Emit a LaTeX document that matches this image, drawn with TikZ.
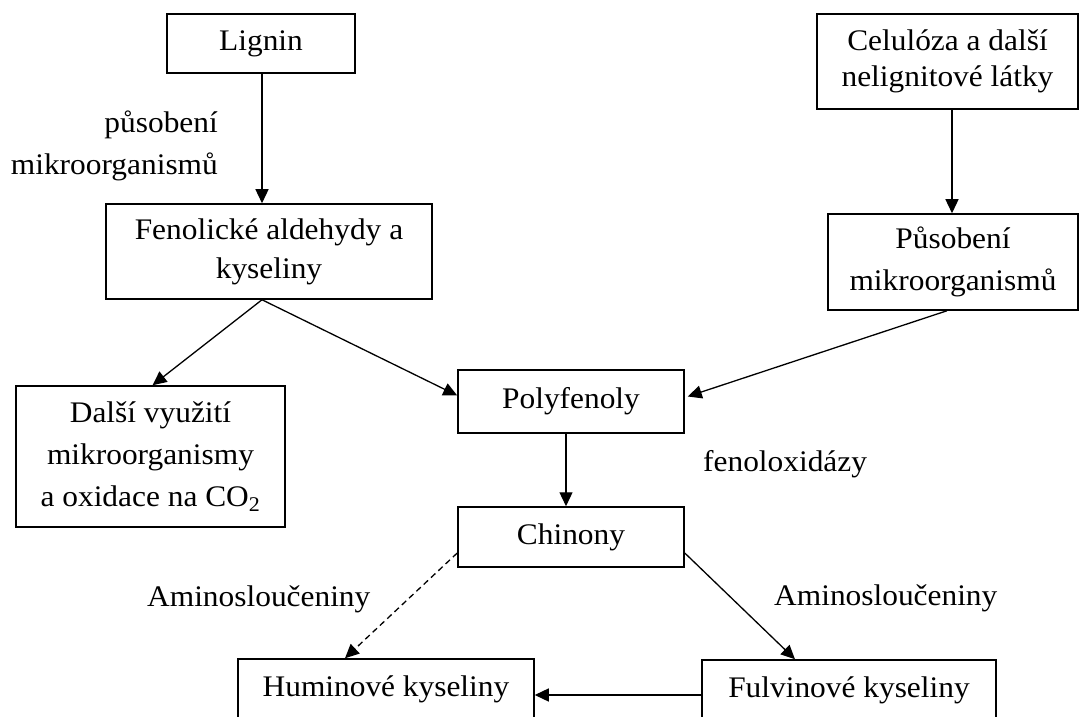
\documentclass[tikz,border=0pt]{standalone}
\usepackage{fontspec}
\setmainfont[FakeStretch=1.05]{Liberation Serif}
\usetikzlibrary{arrows.meta,calc}
\begin{document}
\begin{tikzpicture}[x=1bp,y=-1bp,
  box/.style={draw,line width=1.5bp,inner sep=0pt,align=center,font=\fontsize{30}{39}\selectfont},
  lbl/.style={inner sep=0pt,font=\fontsize{30}{42}\selectfont},
  arr/.style={line width=1.3bp,-{Triangle[length=14bp,width=13bp]}},
  dasharr/.style={arr,dash pattern=on 6bp off 4bp},
]
\useasboundingbox (0,0) rectangle (1079,717);

\node[box,minimum width=188bp,minimum height=59bp] (lig) at (261,43.5) {Lignin};
\node[box,minimum width=261bp,minimum height=95bp,font=\fontsize{30}{36}\selectfont] (cel) at (947.5,61.5) {Celulóza a další\\nelignitové látky};
\node[box,minimum width=326bp,minimum height=95bp] (fen) at (269,251.5) {Fenolické aldehydy a\\kyseliny};
\node[box,minimum width=250bp,minimum height=96bp,font=\fontsize{30}{42}\selectfont] (pus) at (953,262) {Působení\\mikroorganismů};
\node[box,minimum width=269bp,minimum height=141bp,font=\fontsize{30}{42}\selectfont] (dal) at (150.5,456.5) {Další využití\\mikroorganismy\\a oxidace na CO\textsubscript{2}};
\node[box,minimum width=226bp,minimum height=63bp] (pol) at (571,401.5) {Polyfenoly};
\node[box,minimum width=226bp,minimum height=60bp] (chi) at (571,537) {Chinony};
\node[box,minimum width=296bp,minimum height=60bp] (hum) at (386,689) {Huminové kyseliny};
\node[box,minimum width=294bp,minimum height=60bp] (ful) at (849,690) {Fulvinové kyseliny};

\node[lbl,align=right,anchor=east] (l1) at (218,146) {působení\\mikroorganismů};
\node[lbl,anchor=west] (l2) at (703,464) {fenoloxidázy};
\node[lbl,anchor=west] (l3) at (147,599) {Aminosloučeniny};
\node[lbl,anchor=west] (l4) at (774,598) {Aminosloučeniny};

\coordinate (a1) at ($(lig.south)+(1,0)$);
\coordinate (a2) at ($(pus.north)+(-1,0)$);
\coordinate (a3) at ($(pol.south)+(-5,0)$);
\draw[arr] (a1) -- (a1 |- fen.north);
\draw[arr] (a2 |- cel.south) -- (a2);
\draw[arr] ($(fen.south)+(-7,0)$) -- ($(dal.north)+(2,0)$);
\draw[arr] ($(fen.south)+(-7,0)$) -- ($(pol.west)+(0,-6)$);
\draw[arr] ($(pus.south)+(-6,0)$) -- ($(pol.east)+(3,-5)$);
\draw[arr] (a3) -- (a3 |- chi.north);
\draw[dasharr] ($(chi.west)+(0,16)$) -- ($(hum.north)+(-41,0)$);
\draw[arr] ($(chi.east)+(0,16)$) -- ($(ful.north)+(-54,0)$);
\draw[arr] ($(ful.west)+(0,5)$) -- ($(hum.east)+(0,6)$);
\end{tikzpicture}
\end{document}
